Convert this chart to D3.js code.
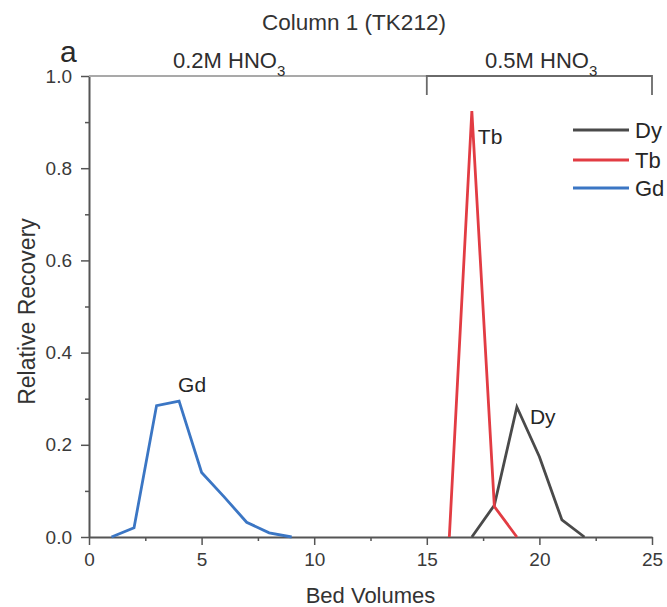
<!DOCTYPE html>
<html>
<head>
<meta charset="utf-8">
<script src="https://cdn.jsdelivr.net/npm/d3@7"></script>
<style>
  html, body { margin: 0; padding: 0; background: #fff; }
  svg { display: block; font-family: "Liberation Sans", Arial, Helvetica, sans-serif; }
</style>
</head>
<body>
<svg id="chart" width="667" height="607"></svg>
<script>
// Elution profiles, relative recovery per bed volume
const gdBV = [1, 2, 3, 4, 5, 6, 7, 8, 9];
const gdRecovery = [0, 0.02, 0.285, 0.295, 0.14, 0.087, 0.032, 0.009, 0];

const tbBV = [16, 17, 18, 19];
const tbRecovery = [0, 0.924, 0.066, 0];

const dyBV = [17, 18, 19, 20, 21, 22];
const dyRecovery = [0, 0.069, 0.282, 0.174, 0.037, 0];

const xMajorTicks = [0, 5, 10, 15, 20, 25];
const xMinorTicks = [2.5, 7.5, 12.5, 17.5, 22.5];
const yMajorTicks = [0, 0.2, 0.4, 0.6, 0.8, 1.0];
const yMinorTicks = [0.1, 0.3, 0.5, 0.7, 0.9];

// Eluent stages along the top: [start BV, end BV]
const stageNames = ["0.2M HNO", "0.5M HNO"];
const stageRanges = [[0, 15], [15, 25]];

const seriesNames = ["Dy", "Tb", "Gd"];

const svg = d3.select("#chart");
const x = d3.scaleLinear().domain([0, 25]).range([89, 652]);
const y = d3.scaleLinear().domain([0, 1]).range([537, 76]);

const axisColor = "#555";
const textColor = "#3a3a3a";
const colors = { Dy: "#4a4a4a", Tb: "#e23c43", Gd: "#3b76c4" };

// Minor ticks
svg.append("g")
  .attr("transform", `translate(0,${y(0)})`)
  .call(d3.axisBottom(x).tickValues(xMinorTicks).tickSize(4).tickFormat(""))
  .call(g => g.select(".domain").remove())
  .call(g => g.selectAll("line").attr("stroke", axisColor).attr("stroke-width", 1.5));
svg.append("g")
  .attr("transform", `translate(${x(0)},0)`)
  .call(d3.axisLeft(y).tickValues(yMinorTicks).tickSize(4).tickFormat(""))
  .call(g => g.select(".domain").remove())
  .call(g => g.selectAll("line").attr("stroke", axisColor).attr("stroke-width", 1.5));

// Bottom axis
svg.append("g")
  .attr("transform", `translate(0,${y(0)})`)
  .call(d3.axisBottom(x).tickValues(xMajorTicks).tickSize(8).tickPadding(8).tickSizeOuter(0)
        .tickFormat(d3.format("d")))
  .call(g => g.select(".domain").attr("stroke", axisColor).attr("stroke-width", 2))
  .call(g => g.selectAll("line").attr("stroke", axisColor).attr("stroke-width", 1.5))
  .call(g => g.selectAll("text").attr("fill", textColor).attr("font-size", 19)
        .attr("font-family", "Liberation Sans, Arial, sans-serif"));

// Left axis
svg.append("g")
  .attr("transform", `translate(${x(0)},0)`)
  .call(d3.axisLeft(y).tickValues(yMajorTicks).tickSize(8).tickPadding(9).tickSizeOuter(0)
        .tickFormat(d3.format(".1f")))
  .call(g => g.select(".domain").attr("stroke", axisColor).attr("stroke-width", 2))
  .call(g => g.selectAll("line").attr("stroke", axisColor).attr("stroke-width", 1.5))
  .call(g => g.selectAll("text").attr("fill", textColor).attr("font-size", 19)
        .attr("font-family", "Liberation Sans, Arial, sans-serif"));

// Stage brackets along the top edge
const stageColors = ["#a9a9a9", "#6a6a6a"];
const stageLabelX = [173, 485];
stageRanges.forEach((r, i) => {
  const g = svg.append("g");
  const x0 = x(r[0]), x1 = x(r[1]), yt = y(1);
  g.append("path")
    .attr("d", i === 0
      ? `M${x0},${yt}H${x1}`
      : `M${x0},${yt + 19}V${yt}H${x1}V${yt + 19}`)
    .attr("fill", "none")
    .attr("stroke", stageColors[i])
    .attr("stroke-width", 1.8);
  const t = g.append("text")
    .attr("x", stageLabelX[i])
    .attr("y", 67.5)
    .attr("font-size", 22)
    .attr("fill", "#2e2e2e");
  t.append("tspan").text(stageNames[i]);
  t.append("tspan").attr("dy", 8).attr("font-size", 15).text("3");
});

// Series lines
const line = d3.line().x(d => x(d[0])).y(d => y(d[1]));
const series = {
  Dy: d3.zip(dyBV, dyRecovery),
  Tb: d3.zip(tbBV, tbRecovery),
  Gd: d3.zip(gdBV, gdRecovery)
};
["Dy", "Tb", "Gd"].forEach(name => {
  svg.append("path")
    .datum(series[name])
    .attr("d", line)
    .attr("fill", "none")
    .attr("stroke", colors[name])
    .attr("stroke-width", 2.8)
    .attr("stroke-linejoin", "miter");
});

// Peak labels, placed next to each series maximum
const peakLabels = [
  { name: "Gd", bv: 4, val: d3.max(gdRecovery), off: [-1, -9] },
  { name: "Tb", bv: 17, val: d3.max(tbRecovery), off: [6, 33] },
  { name: "Dy", bv: 19, val: d3.max(dyRecovery), off: [13, 17] }
];
peakLabels.forEach(p => {
  svg.append("text")
    .attr("x", x(p.bv) + p.off[0])
    .attr("y", y(p.val) + p.off[1])
    .attr("font-size", 21)
    .attr("fill", "#262626")
    .text(p.name);
});

// Legend
const legend = svg.append("g").attr("transform", "translate(573,130)");
seriesNames.forEach((name, i) => {
  const yy = [0, 30, 58][i];
  legend.append("line")
    .attr("x1", 0).attr("x2", 56)
    .attr("y1", yy).attr("y2", yy)
    .attr("stroke", colors[name]).attr("stroke-width", 2.8);
  legend.append("text")
    .attr("x", 62).attr("y", yy + 7.5)
    .attr("font-size", 22)
    .attr("fill", "#262626")
    .text(name);
});

// Titles
svg.append("text")
  .attr("x", 354).attr("y", 30)
  .attr("text-anchor", "middle")
  .attr("font-size", 22.5)
  .attr("fill", "#333")
  .text("Column 1 (TK212)");

svg.append("text")
  .attr("x", 60).attr("y", 62)
  .attr("font-size", 30)
  .attr("fill", "#2a2a2a")
  .text("a");

svg.append("text")
  .attr("x", x(12.5)).attr("y", 603)
  .attr("text-anchor", "middle")
  .attr("font-size", 22)
  .attr("fill", "#333")
  .text("Bed Volumes");

svg.append("text")
  .attr("transform", `translate(35,${(y(0) + y(1)) / 2 + 5}) rotate(-90)`)
  .attr("text-anchor", "middle")
  .attr("font-size", 23)
  .attr("fill", "#333")
  .text("Relative Recovery");
</script>
</body>
</html>
